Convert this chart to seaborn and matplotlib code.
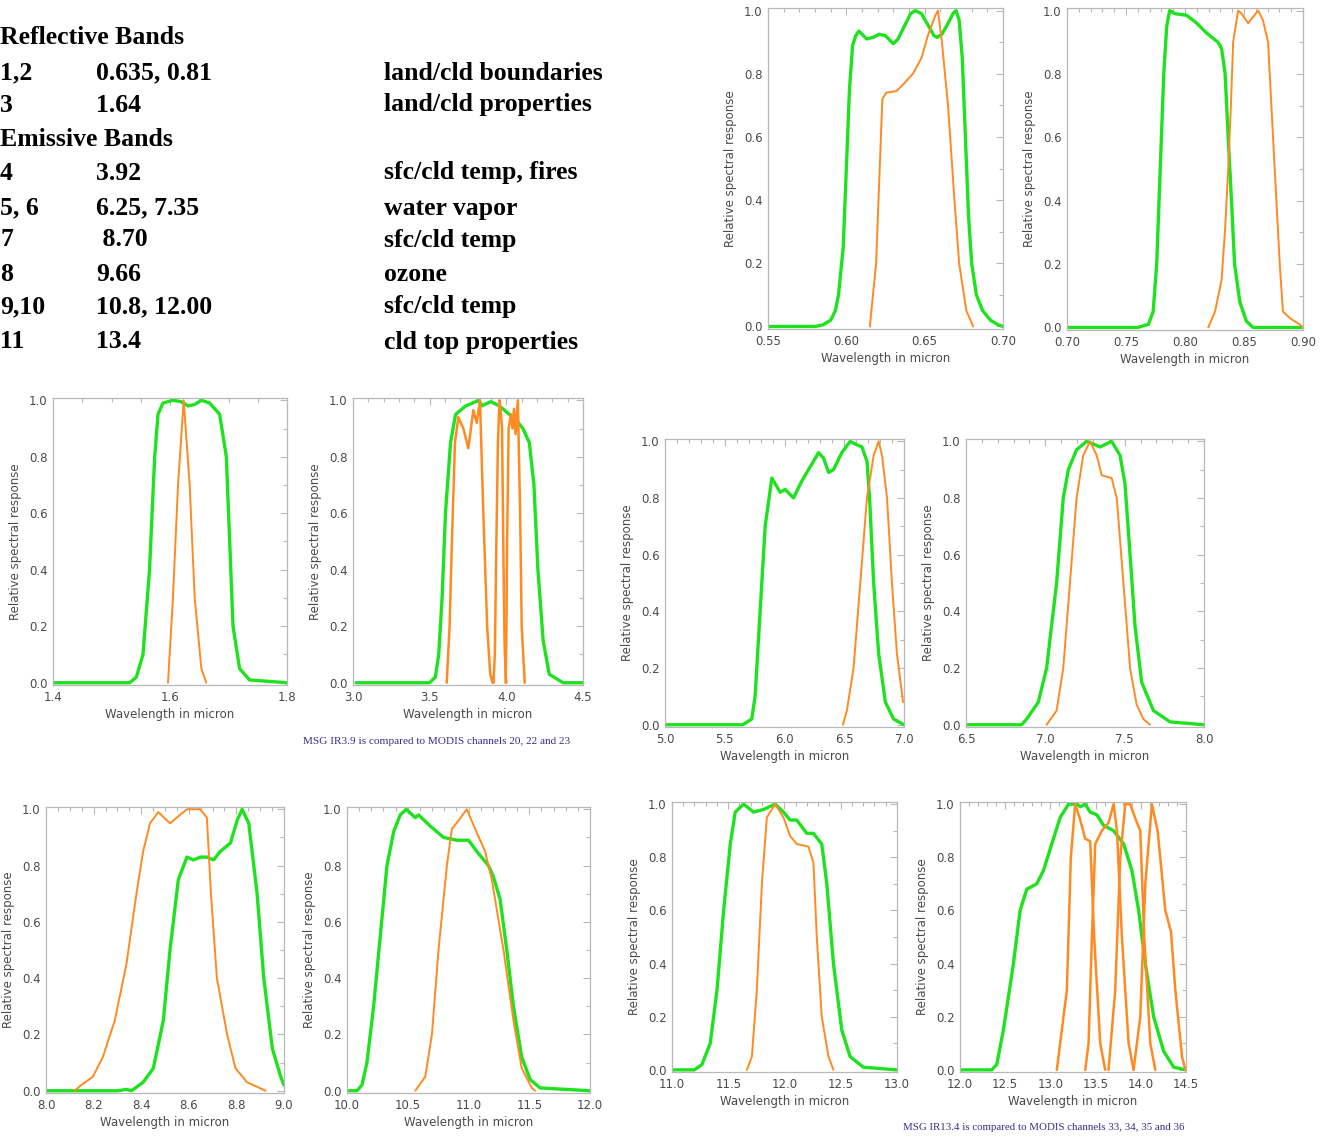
import matplotlib
matplotlib.use("Agg")
import matplotlib.pyplot as plt  # graficos
import seaborn as sns  # graficos
import numpy as np
from matplotlib.ticker import AutoMinorLocator, FormatStrFormatter

# ---- datos ----
# Panel 0.55-0.70 (banda 1)
b1_msg_x = [0.550, 0.580, 0.585, 0.590, 0.593, 0.595, 0.598, 0.600, 0.602, 0.604, 0.606, 0.608, 0.610, 0.613,
            0.617, 0.621, 0.625, 0.628, 0.630, 0.633, 0.637, 0.641, 0.644, 0.648, 0.652, 0.656, 0.658, 0.661,
            0.665, 0.668, 0.670, 0.672, 0.674, 0.676, 0.678, 0.680, 0.683, 0.687, 0.692, 0.697, 0.700]
b1_msg_y = [0.0, 0.0, 0.005, 0.02, 0.05, 0.1, 0.25, 0.5, 0.75, 0.89, 0.92, 0.935, 0.925, 0.91,
            0.915, 0.925, 0.92, 0.905, 0.895, 0.91, 0.95, 0.99, 1.0, 0.99, 0.955, 0.92, 0.915, 0.925,
            0.96, 0.99, 1.0, 0.97, 0.85, 0.6, 0.35, 0.2, 0.1, 0.05, 0.02, 0.005, 0.0]
b1_modis_x = [0.615, 0.619, 0.6213, 0.623, 0.6255, 0.632, 0.637, 0.6425, 0.648, 0.652, 0.6564, 0.6585,
              0.661, 0.6649, 0.669, 0.672, 0.6766, 0.681]
b1_modis_y = [0.0, 0.2, 0.5, 0.72, 0.74, 0.745, 0.77, 0.80, 0.85, 0.92, 0.98, 1.0,
              0.9, 0.7, 0.4, 0.2, 0.05, 0.0]

# Panel 0.70-0.90 (banda 2)
b2_msg_x = [0.700, 0.760, 0.769, 0.773, 0.776, 0.779, 0.782, 0.7845, 0.787, 0.7915, 0.8014, 0.810, 0.818,
            0.828, 0.831, 0.834, 0.8366, 0.8394, 0.842, 0.8465, 0.852, 0.8577, 0.900]
b2_msg_y = [0.0, 0.0, 0.01, 0.05, 0.2, 0.5, 0.8, 0.95, 1.0, 0.99, 0.985, 0.96, 0.93,
            0.9, 0.88, 0.8, 0.6, 0.4, 0.2, 0.08, 0.02, 0.0, 0.0]
b2_modis_x = [0.8197, 0.8254, 0.831, 0.8338, 0.8366, 0.8389, 0.8408, 0.845, 0.848, 0.8535, 0.8577, 0.862,
              0.866, 0.8704, 0.8746, 0.8803, 0.883, 0.8887, 0.897, 0.900]
b2_modis_y = [0.0, 0.05, 0.15, 0.3, 0.5, 0.7, 0.9, 1.0, 0.99, 0.96, 0.98, 1.0,
              0.97, 0.9, 0.6, 0.2, 0.05, 0.03, 0.01, 0.0]

# Panel 1.4-1.8 (banda 3)
b3_msg_x = [1.400, 1.531, 1.5425, 1.5538, 1.565, 1.5738, 1.5795, 1.588, 1.605, 1.619, 1.6308, 1.6422,
            1.6536, 1.6678, 1.6849, 1.6963, 1.702, 1.7077, 1.719, 1.736, 1.800]
b3_msg_y = [0.0, 0.0, 0.02, 0.1, 0.4, 0.8, 0.95, 0.99, 1.0, 0.995, 0.98, 0.985,
            1.0, 0.99, 0.95, 0.8, 0.5, 0.2, 0.05, 0.01, 0.0]
b3_modis_x = [1.5966, 1.605, 1.6137, 1.6234, 1.6336, 1.6422, 1.6536, 1.662]
b3_modis_y = [0.0, 0.3, 0.7, 1.0, 0.7, 0.3, 0.05, 0.0]

# Panel 3.0-4.5 (banda 4, MODIS 20, 22, 23)
b4_msg_x = [3.02, 3.50, 3.537, 3.559, 3.581, 3.603, 3.636, 3.669, 3.735, 3.822, 3.840, 3.877, 3.900,
            3.954, 4.020, 4.064, 4.108, 4.150, 4.180, 4.206, 4.240, 4.280, 4.370, 4.500]
b4_msg_y = [0.0, 0.0, 0.02, 0.1, 0.3, 0.6, 0.85, 0.95, 0.98, 1.0, 0.98, 0.99, 0.995,
            0.98, 0.95, 0.93, 0.9, 0.85, 0.7, 0.4, 0.15, 0.03, 0.0, 0.0]
ch20_x = [3.611, 3.630, 3.645, 3.665, 3.687, 3.720, 3.752, 3.785, 3.807, 3.828, 3.850, 3.875, 3.895, 3.910]
ch20_y = [0.0, 0.2, 0.5, 0.85, 0.94, 0.9, 0.83, 0.965, 0.92, 1.0, 0.6, 0.2, 0.03, 0.0]
ch22_x = [3.905, 3.916, 3.925, 3.935, 3.945, 3.955, 3.965, 3.972, 3.980, 3.988, 3.995, 4.000]
ch22_y = [0.02, 0.0, 0.1, 0.5, 0.85, 1.0, 0.95, 0.9, 0.5, 0.15, 0.03, 0.0]
ch23_x = [3.995, 4.000, 4.005, 4.015, 4.030, 4.040, 4.050, 4.060, 4.075, 4.090, 4.100, 4.120]
ch23_y = [0.0, 0.15, 0.5, 0.9, 0.95, 0.9, 0.97, 0.88, 1.0, 0.6, 0.2, 0.0]

# Panel 5.0-7.0 (banda 5)
b5_msg_x = [5.0, 5.65, 5.726, 5.754, 5.796, 5.838, 5.894, 5.922, 5.964, 6.006, 6.075, 6.145, 6.243, 6.285,
            6.327, 6.369, 6.41, 6.48, 6.55, 6.592, 6.648, 6.69, 6.712, 6.746, 6.788, 6.844, 6.913, 7.0]
b5_msg_y = [0.0, 0.0, 0.02, 0.1, 0.4, 0.7, 0.87, 0.85, 0.82, 0.83, 0.80, 0.86, 0.93, 0.96,
            0.94, 0.89, 0.9, 0.96, 1.0, 0.99, 0.98, 0.93, 0.8, 0.5, 0.25, 0.08, 0.02, 0.0]
b5_modis_x = [6.489, 6.522, 6.578, 6.634, 6.69, 6.746, 6.788, 6.816, 6.858, 6.899, 6.941, 6.992]
b5_modis_y = [0.0, 0.05, 0.2, 0.5, 0.8, 0.95, 1.0, 0.95, 0.8, 0.5, 0.25, 0.08]

# Panel 6.5-8.0 (banda 6)
b6_msg_x = [6.5, 6.851, 6.882, 6.956, 7.008, 7.071, 7.113, 7.145, 7.197, 7.26, 7.345, 7.418, 7.471,
            7.502, 7.534, 7.565, 7.607, 7.681, 7.786, 8.0]
b6_msg_y = [0.0, 0.0, 0.02, 0.08, 0.2, 0.5, 0.8, 0.9, 0.97, 1.0, 0.98, 1.0, 0.95,
            0.85, 0.6, 0.35, 0.15, 0.05, 0.01, 0.0]
b6_modis_x = [7.008, 7.071, 7.113, 7.155, 7.197, 7.239, 7.282, 7.324, 7.355, 7.418, 7.45, 7.492,
              7.534, 7.576, 7.618, 7.66]
b6_modis_y = [0.0, 0.05, 0.2, 0.5, 0.8, 0.95, 1.0, 0.95, 0.88, 0.87, 0.8, 0.5,
              0.2, 0.07, 0.02, 0.0]

# Panel 8.0-9.0 (banda 7)
b7_msg_x = [8.0, 8.303, 8.338, 8.359, 8.408, 8.451, 8.493, 8.521, 8.556, 8.592, 8.62, 8.648, 8.676,
            8.704, 8.732, 8.775, 8.803, 8.824, 8.852, 8.887, 8.915, 8.951, 8.986, 9.0]
b7_msg_y = [0.0, 0.0, 0.005, 0.0, 0.03, 0.08, 0.25, 0.5, 0.75, 0.83, 0.82, 0.83, 0.83,
            0.82, 0.85, 0.88, 0.96, 1.0, 0.95, 0.7, 0.4, 0.15, 0.05, 0.02]
b7_modis_x = [8.12, 8.148, 8.197, 8.239, 8.289, 8.338, 8.38, 8.408, 8.437, 8.472, 8.521, 8.563, 8.592,
              8.648, 8.676, 8.693, 8.718, 8.761, 8.796, 8.845, 8.923]
b7_modis_y = [0.0, 0.02, 0.05, 0.12, 0.25, 0.45, 0.7, 0.85, 0.95, 0.99, 0.95, 0.98, 1.0,
              1.0, 0.97, 0.7, 0.4, 0.2, 0.08, 0.03, 0.0]

# Panel 10-12 (banda 9)
b9_msg_x = [10.0, 10.082, 10.123, 10.164, 10.219, 10.274, 10.329, 10.384, 10.438, 10.488, 10.562, 10.589,
            10.685, 10.795, 10.904, 11.0, 11.068, 11.164, 11.205, 11.26, 11.315, 11.37, 11.438, 11.507,
            11.589, 12.0]
b9_msg_y = [0.0, 0.0, 0.02, 0.1, 0.3, 0.55, 0.8, 0.92, 0.98, 1.0, 0.97, 0.98,
            0.94, 0.9, 0.89, 0.89, 0.85, 0.8, 0.76, 0.68, 0.5, 0.3, 0.12, 0.04,
            0.01, 0.0]
b9_modis_x = [10.562, 10.644, 10.699, 10.753, 10.822, 10.863, 10.918, 10.986, 11.055, 11.137, 11.192,
              11.288, 11.37, 11.438, 11.521, 11.548]
b9_modis_y = [0.0, 0.05, 0.2, 0.5, 0.8, 0.93, 0.96, 1.0, 0.93, 0.85, 0.75,
              0.5, 0.25, 0.08, 0.01, 0.0]

# Panel 11-13 (banda 10)
b10_msg_x = [11.0, 11.198, 11.266, 11.34, 11.4, 11.459, 11.518, 11.562, 11.636, 11.725, 11.814, 11.917,
             11.991, 12.05, 12.109, 12.198, 12.257, 12.331, 12.376, 12.435, 12.509, 12.583, 12.701, 13.0]
b10_msg_y = [0.0, 0.0, 0.02, 0.1, 0.3, 0.6, 0.85, 0.97, 1.0, 0.97, 0.98, 1.0,
             0.97, 0.94, 0.94, 0.89, 0.89, 0.85, 0.7, 0.4, 0.15, 0.05, 0.01, 0.0]
b10_modis_x = [11.666, 11.71, 11.754, 11.799, 11.843, 11.917, 11.991, 12.05, 12.109, 12.213, 12.257,
               12.287, 12.331, 12.391, 12.435]
b10_modis_y = [0.0, 0.05, 0.3, 0.7, 0.95, 1.0, 0.95, 0.88, 0.85, 0.84, 0.78,
               0.5, 0.2, 0.05, 0.0]

# Panel 12-14.5 (banda 11, MODIS 33-36)
b11_msg_x = [12.0, 12.351, 12.406, 12.48, 12.591, 12.665, 12.739, 12.849, 12.923, 13.015, 13.108, 13.2,
             13.292, 13.33, 13.385, 13.44, 13.514, 13.588, 13.699, 13.81, 13.902, 13.976, 14.05, 14.142,
             14.253, 14.364, 14.5]
b11_msg_y = [0.0, 0.0, 0.02, 0.15, 0.4, 0.6, 0.68, 0.7, 0.75, 0.85, 0.95, 1.0,
             1.0, 0.99, 1.0, 0.97, 0.96, 0.92, 0.9, 0.85, 0.75, 0.6, 0.4, 0.2,
             0.07, 0.01, 0.0]
ch33_x = [13.071, 13.182, 13.226, 13.274, 13.322, 13.385, 13.44, 13.484, 13.551, 13.606]
ch33_y = [0.0, 0.3, 0.8, 1.0, 0.95, 0.87, 0.86, 0.5, 0.1, 0.0]
ch34_x = [13.385, 13.422, 13.459, 13.496, 13.569, 13.643, 13.699, 13.736, 13.791, 13.865, 13.92]
ch34_y = [0.0, 0.1, 0.5, 0.85, 0.9, 0.93, 1.0, 0.9, 0.5, 0.1, 0.0]
ch35_x = [13.643, 13.717, 13.773, 13.828, 13.883, 13.957, 13.994, 14.038, 14.105, 14.16]
ch35_y = [0.0, 0.3, 0.8, 1.0, 1.0, 0.93, 0.9, 0.5, 0.1, 0.0]
ch36_x = [13.92, 13.994, 14.05, 14.123, 14.186, 14.271, 14.334, 14.382, 14.456, 14.493]
ch36_y = [0.0, 0.2, 0.7, 1.0, 0.9, 0.6, 0.52, 0.3, 0.05, 0.0]

# tabla de bandas
tabla_banda = ["1,2", "3", "4", "5, 6", "7", "8", "9,10", "11"]
tabla_lambda = ["0.635, 0.81", "1.64", "3.92", "6.25, 7.35", " 8.70", "9.66", "10.8, 12.00", "13.4"]
tabla_uso = ["land/cld boundaries", "land/cld properties", "sfc/cld temp, fires", "water vapor",
             "sfc/cld temp", "ozone", "sfc/cld temp", "cld top properties"]

# ---- figura ----
sns.set_style("white")
W, H = 1325, 1137
fig = plt.figure(figsize=(W / 100, H / 100), dpi=100)

VERDE = "#1fe21f"
NARANJA = "#ff8a22"
GRIS = "#b8b8b8"


def panel(l, t, r, b, xlim, xticks, fmt, msg, modis, lw_modis=1.4):
    ax = fig.add_axes([l / W, 1 - b / H, (r - l) / W, (b - t) / H])
    sns.lineplot(x=msg[0], y=msg[1], ax=ax, color=VERDE, lw=2.4, estimator=None, sort=False)
    for mx, my in modis:
        sns.lineplot(x=mx, y=my, ax=ax, color=NARANJA, lw=lw_modis, estimator=None, sort=False)
    ax.set_xlim(*xlim)
    ax.set_ylim(-0.008, 1.008)
    ax.set_xticks(xticks)
    ax.set_yticks([0, 0.2, 0.4, 0.6, 0.8, 1.0])
    ax.xaxis.set_major_formatter(FormatStrFormatter(fmt))
    ax.yaxis.set_major_formatter(FormatStrFormatter("%.1f"))
    ax.xaxis.set_minor_locator(AutoMinorLocator())
    ax.yaxis.set_minor_locator(AutoMinorLocator(2))
    ax.tick_params(which="both", direction="in", top=True, right=True, color=GRIS,
                   labelsize=8.5, labelcolor="#4a4a4a", pad=4)
    ax.tick_params(which="major", length=5, width=0.8)
    ax.tick_params(which="minor", length=3, width=0.8)
    for s in ax.spines.values():
        s.set_color(GRIS)
        s.set_linewidth(0.9)
    ax.set_xlabel("Wavelength in micron", fontsize=8.5, color="#4a4a4a", labelpad=3)
    ax.set_ylabel("Relative spectral response", fontsize=8.5, color="#4a4a4a", labelpad=5)
    return ax


panel(768, 8, 1003, 329, (0.55, 0.70), [0.55, 0.60, 0.65, 0.70], "%.2f",
      (b1_msg_x, b1_msg_y), [(b1_modis_x, b1_modis_y)])
panel(1067, 8, 1303, 330, (0.70, 0.90), [0.70, 0.75, 0.80, 0.85, 0.90], "%.2f",
      (b2_msg_x, b2_msg_y), [(b2_modis_x, b2_modis_y)])
panel(53, 398, 287, 685, (1.4, 1.8), [1.4, 1.6, 1.8], "%.1f",
      (b3_msg_x, b3_msg_y), [(b3_modis_x, b3_modis_y)])
panel(353, 398, 583, 685, (3.0, 4.5), [3.0, 3.5, 4.0, 4.5], "%.1f",
      (b4_msg_x, b4_msg_y), [(ch20_x, ch20_y), (ch22_x, ch22_y), (ch23_x, ch23_y)], lw_modis=1.8)
panel(665, 439, 904, 727, (5.0, 7.0), [5.0, 5.5, 6.0, 6.5, 7.0], "%.1f",
      (b5_msg_x, b5_msg_y), [(b5_modis_x, b5_modis_y)])
panel(966, 439, 1204, 727, (6.5, 8.0), [6.5, 7.0, 7.5, 8.0], "%.1f",
      (b6_msg_x, b6_msg_y), [(b6_modis_x, b6_modis_y)])
panel(46, 807, 284, 1093, (8.0, 9.0), [8.0, 8.2, 8.4, 8.6, 8.8, 9.0], "%.1f",
      (b7_msg_x, b7_msg_y), [(b7_modis_x, b7_modis_y)])
panel(347, 807, 590, 1093, (10.0, 12.0), [10.0, 10.5, 11.0, 11.5, 12.0], "%.1f",
      (b9_msg_x, b9_msg_y), [(b9_modis_x, b9_modis_y)])
panel(672, 802, 897, 1072, (11.0, 13.0), [11.0, 11.5, 12.0, 12.5, 13.0], "%.1f",
      (b10_msg_x, b10_msg_y), [(b10_modis_x, b10_modis_y)])
panel(960, 802, 1186, 1072, (12.0, 14.5), [12.0, 12.5, 13.0, 13.5, 14.0, 14.5], "%.1f",
      (b11_msg_x, b11_msg_y), [(ch33_x, ch33_y), (ch34_x, ch34_y), (ch35_x, ch35_y), (ch36_x, ch36_y)],
      lw_modis=1.8)

# tabla de texto arriba a la izquierda
serif = dict(family="Liberation Serif", weight="bold", fontsize=18.5, color="black", va="center")
filas_y = [73, 105, 173, 208, 240, 274, 307, 342]
fig.text(0 / W, 1 - 38 / H, "Reflective Bands", ha="left", **serif)
fig.text(0 / W, 1 - 140 / H, "Emissive Bands", ha="left", **serif)
for yy, a, b, c in zip(filas_y, tabla_banda, tabla_lambda, tabla_uso):
    fig.text(0 / W, 1 - yy / H, a, ha="left", **serif)
    fig.text(96 / W, 1 - yy / H, b, ha="left", **serif)
    fig.text(384 / W, 1 - yy / H, c, ha="left", **serif)

# notas
nota = dict(family="Liberation Serif", color="#3a2a8c", va="center", ha="left")
fig.text(303 / W, 1 - 742 / H, "MSG IR3.9 is compared to MODIS channels 20, 22 and 23", fontsize=8.1, **nota)
fig.text(903 / W, 1 - 1127 / H, "MSG IR13.4 is compared to MODIS channels 33, 34, 35 and 36", fontsize=7.8, **nota)

fig.savefig("out.png", dpi=100)
